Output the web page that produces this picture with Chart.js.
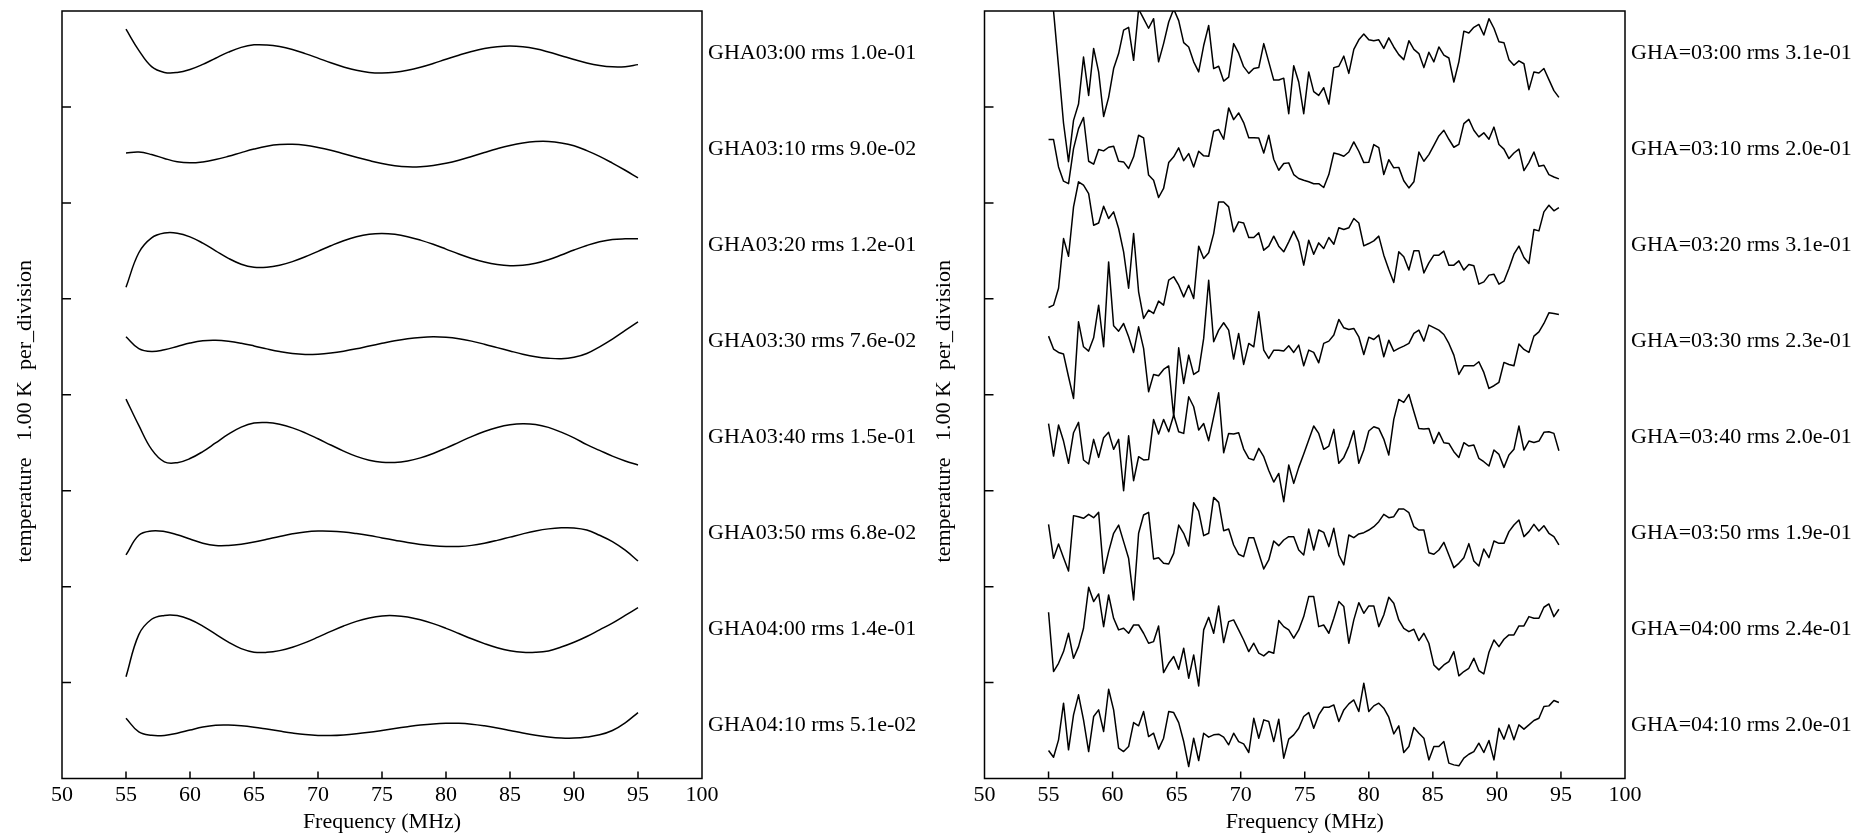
<!DOCTYPE html>
<html>
<head>
<meta charset="utf-8">
<script src="https://cdn.jsdelivr.net/npm/chart.js@4.4.1/dist/chart.umd.min.js"></script>
<style>
  body { margin: 0; background: #fff; }
  #wrap { display: flex; width: 1858px; height: 833px; }
  canvas { display: block; }
</style>
</head>
<body>
<div id="wrap">
  <canvas id="fitChart" width="920" height="833"></canvas>
  <canvas id="dataChart" width="938" height="833"></canvas>
</div>
<script>
// model fits, sampled every 1 MHz
var fitFreq = [55,56,57,58,59,60,61,62,63,64,65,66,67,68,69,70,71,72,73,74,75,76,77,78,79,80,81,82,83,84,85,86,87,88,89,90,91,92,93,94,95];

// data channels, 0.39 MHz apart
var chanFreq = [55.00,55.39,55.78,56.17,56.56,56.95,57.34,57.73,58.13,58.52,58.91,59.30,59.69,60.08,60.47,60.86,61.25,61.64,62.03,62.42,
  62.81,63.20,63.59,63.98,64.38,64.77,65.16,65.55,65.94,66.33,66.72,67.11,67.50,67.89,68.28,68.67,69.06,69.45,69.84,70.23,
  70.63,71.02,71.41,71.80,72.19,72.58,72.97,73.36,73.75,74.14,74.53,74.92,75.31,75.70,76.09,76.48,76.88,77.27,77.66,78.05,
  78.44,78.83,79.22,79.61,80.00,80.39,80.78,81.17,81.56,81.95,82.34,82.73,83.13,83.52,83.91,84.30,84.69,85.08,85.47,85.86,
  86.25,86.64,87.03,87.42,87.81,88.20,88.59,88.98,89.38,89.77,90.16,90.55,90.94,91.33,91.72,92.11,92.50,92.89,93.28,93.67,
  94.06,94.45,94.84];

// vertical offset of each trace, in K (1 K per division)
var rowOffset = [7.5, 6.5, 5.5, 4.5, 3.5, 2.5, 1.5, 0.5];

var fitLabels = ['GHA03:00 rms 1.0e-01', 'GHA03:10 rms 9.0e-02', 'GHA03:20 rms 1.2e-01', 'GHA03:30 rms 7.6e-02',
  'GHA03:40 rms 1.5e-01', 'GHA03:50 rms 6.8e-02', 'GHA04:00 rms 1.4e-01', 'GHA04:10 rms 5.1e-02'];
var dataLabels = ['GHA=03:00 rms 3.1e-01', 'GHA=03:10 rms 2.0e-01', 'GHA=03:20 rms 3.1e-01', 'GHA=03:30 rms 2.3e-01',
  'GHA=03:40 rms 2.0e-01', 'GHA=03:50 rms 1.9e-01', 'GHA=04:00 rms 2.4e-01', 'GHA=04:10 rms 2.0e-01'];

// fitted residuals (K)
var fit0300 = [0.31,0.09,-0.08,-0.14,-0.141,-0.110,-0.057,0.008,0.071,0.121,0.147,0.146,0.129,0.098,0.056,0.009,-0.040,-0.083,-0.118,-0.140,
  -0.146,-0.138,-0.117,-0.086,-0.047,-0.003,0.039,0.078,0.109,0.128,0.135,0.127,0.106,0.073,0.034,-0.006,-0.042,-0.068,-0.082,-0.080,-0.059];
var fit0310 = [0.02,0.03,0.004,-0.037,-0.071,-0.083,-0.073,-0.049,-0.015,0.024,0.061,0.091,0.108,0.110,0.100,0.078,0.049,0.013,-0.024,-0.059,
  -0.090,-0.112,-0.124,-0.123,-0.111,-0.087,-0.055,-0.016,0.025,0.064,0.098,0.124,0.139,0.140,0.125,0.095,0.045,-0.015,-0.085,-0.16,-0.24];
var fit0320 = [-0.38,-0.02,0.135,0.185,0.184,0.146,0.080,0.0,-0.078,-0.139,-0.171,-0.171,-0.150,-0.112,-0.062,-0.005,0.053,0.106,0.147,0.173,
  0.181,0.172,0.148,0.112,0.068,0.018,-0.033,-0.079,-0.117,-0.143,-0.155,-0.151,-0.129,-0.092,-0.044,0.008,0.056,0.095,0.119,0.125,0.125];
var fit0330 = [0.104,-0.02,-0.05,-0.031,0.003,0.039,0.063,0.068,0.058,0.037,0.009,-0.022,-0.050,-0.071,-0.080,-0.077,-0.065,-0.046,-0.021,0.008,
  0.036,0.063,0.084,0.098,0.104,0.099,0.084,0.059,0.027,-0.009,-0.044,-0.077,-0.103,-0.119,-0.125,-0.11,-0.07,0.0,0.08,0.17,0.26];
var fit0340 = [0.455,0.18,-0.07,-0.20,-0.208,-0.165,-0.092,-0.002,0.089,0.162,0.205,0.210,0.192,0.155,0.103,0.041,-0.024,-0.087,-0.142,-0.182,
  -0.204,-0.206,-0.190,-0.158,-0.112,-0.056,0.004,0.064,0.117,0.159,0.187,0.198,0.19,0.16,0.11,0.05,-0.02,-0.08,-0.14,-0.19,-0.233];
var fit0350 = [-0.17,0.035,0.08,0.074,0.041,-0.004,-0.047,-0.071,-0.071,-0.058,-0.036,-0.007,0.023,0.050,0.070,0.079,0.078,0.069,0.053,0.033,
  0.008,-0.016,-0.040,-0.060,-0.075,-0.082,-0.081,-0.070,-0.048,-0.018,0.016,0.050,0.080,0.102,0.113,0.112,0.09,0.035,-0.03,-0.12,-0.233];
var fit0400 = [-0.44,0.0,0.16,0.20,0.198,0.158,0.089,0.004,-0.079,-0.146,-0.183,-0.185,-0.167,-0.132,-0.084,-0.027,0.033,0.089,0.138,0.174,
  0.195,0.197,0.183,0.154,0.114,0.065,0.011,-0.044,-0.094,-0.137,-0.168,-0.185,-0.185,-0.17,-0.13,-0.08,-0.02,0.05,0.12,0.20,0.281];
var fit0410 = [0.128,-0.015,-0.05,-0.051,-0.028,0.005,0.037,0.056,0.058,0.050,0.035,0.015,-0.006,-0.026,-0.042,-0.051,-0.052,-0.046,-0.034,-0.018,
  0.001,0.021,0.040,0.057,0.069,0.075,0.075,0.066,0.049,0.027,0.001,-0.026,-0.049,-0.067,-0.078,-0.079,-0.068,-0.045,0.0,0.08,0.1875];

// measured residuals per channel (K)
var res0300 = [0.9,0.5,-0.08,-0.67,-1.07,-0.64,-0.47,0.02,-0.38,0.11,-0.135,-0.60,-0.40,-0.10,0.056,0.30,0.33,-0.014,0.52,0.42,
  0.32,0.42,-0.03,0.16,0.385,0.52,0.40,0.17,0.125,-0.03,-0.135,0.14,0.35,-0.10,-0.076,-0.23,-0.19,0.16,0.06,-0.08,
  -0.15,-0.10,-0.09,0.16,-0.03,-0.22,-0.22,-0.20,-0.57,-0.07,-0.24,-0.57,-0.135,-0.34,-0.38,-0.30,-0.47,-0.09,-0.076,0.03,
  -0.15,0.10,0.20,0.26,0.20,0.19,0.20,0.11,0.22,0.125,0.045,-0.007,0.19,0.10,0.056,-0.09,0.07,-0.03,0.125,0.04,
  0.01,-0.24,-0.03,0.29,0.27,0.33,0.36,0.25,0.42,0.32,0.18,0.17,-0.007,-0.066,-0.02,-0.05,-0.32,-0.135,-0.146,-0.10,
  -0.215,-0.33,-0.40];
var res0310 = [0.16,0.16,-0.125,-0.274,-0.30,0.066,0.274,0.39,-0.066,-0.097,0.056,0.042,0.08,0.09,-0.066,-0.073,-0.142,-0.02,0.205,0.177,
  -0.21,-0.264,-0.444,-0.35,-0.08,-0.02,0.073,-0.06,0.014,-0.125,0.038,-0.01,-0.014,0.247,0.264,0.163,0.49,0.368,0.4375,0.337,
  0.18,0.18,0.177,0.02,0.205,-0.045,-0.16,-0.09,-0.083,-0.205,-0.246,-0.264,-0.28,-0.30,-0.30,-0.34,-0.205,0.02,0.007,-0.014,
  0.03,0.135,0.038,-0.08,-0.076,0.108,0.076,-0.205,-0.05,-0.135,-0.13,-0.27,-0.344,-0.28,0.03,-0.066,0.003,0.10,0.198,0.257,
  0.163,0.08,0.11,0.326,0.37,0.257,0.1875,0.23,0.163,0.29,0.108,0.06,-0.038,0.02,0.06,-0.163,-0.08,0.03,-0.118,-0.108,
  -0.205,-0.23,-0.25];
var res0320 = [-0.59,-0.566,-0.39,0.128,-0.056,0.458,0.72,0.684,0.597,0.267,0.29,0.465,0.337,0.406,0.233,-0.01,-0.39,0.18,-0.427,-0.705,
  -0.618,-0.653,-0.524,-0.566,-0.306,-0.27,-0.358,-0.48,-0.358,-0.497,0.049,-0.08,-0.02,0.18,0.51,0.51,0.458,0.198,0.302,0.29,
  0.139,0.139,0.1875,0.007,0.049,0.153,0.049,-0.01,0.094,0.205,0.094,-0.149,0.111,-0.035,0.083,0.024,0.139,0.069,0.24,0.222,
  0.24,0.337,0.29,0.052,0.076,0.104,0.153,-0.045,-0.194,-0.33,-0.01,-0.0625,-0.20,0,0,-0.23,-0.125,-0.045,-0.045,-0.003,
  -0.149,-0.149,-0.104,-0.20,-0.142,-0.156,-0.347,-0.323,-0.253,-0.243,-0.347,-0.316,-0.184,-0.035,0.049,-0.069,-0.132,0.222,0.208,0.406,
  0.476,0.417,0.451];
var res0330 = [0.111,-0.024,-0.059,-0.076,-0.3125,-0.538,0.26,0,-0.045,0.094,0.434,0,0.885,0.219,0.163,0.243,0.104,-0.059,0.208,-0.017,
  -0.469,-0.288,-0.302,-0.236,-0.20,-0.729,-0.01,-0.382,-0.087,-0.288,-0.253,0.087,0.694,0.052,0.174,0.25,0.174,-0.128,0.139,-0.184,
  0.035,0,0.365,-0.035,-0.122,-0.035,-0.035,-0.045,0.01,-0.059,0.017,-0.198,-0.035,-0.059,-0.167,0.035,0.059,0.122,0.285,0.198,
  0.18,0.191,0.104,-0.08,0.10,0.076,0.122,-0.104,0.069,-0.045,-0.017,0.007,0.035,0.139,0.174,0.059,0.226,0.20,0.174,0.128,
  0.035,-0.087,-0.288,-0.198,-0.198,-0.198,-0.156,-0.267,-0.434,-0.406,-0.37,-0.163,-0.184,-0.198,0.028,-0.028,-0.059,0.111,0.156,0.243,
  0.354,0.347,0.337];
var res0340 = [0.20,-0.139,0.184,0.017,-0.215,0.104,0.212,-0.18,-0.222,0.035,-0.153,0.052,0.108,-0.069,0.035,-0.5,0.073,-0.396,-0.146,-0.18,
  -0.174,0.243,0.09,0.243,0.115,0.288,0.115,0.097,0.479,0.375,0.132,0.20,0.021,0.27,0.52,-0.104,0.097,0.09,0.104,-0.066,
  -0.163,-0.18,-0.059,-0.146,-0.29,-0.41,-0.32,-0.615,-0.233,-0.424,-0.257,-0.118,0.028,0.174,0.097,-0.069,-0.035,0.139,-0.215,-0.153,
  -0.035,0.125,-0.215,-0.076,0.122,0.167,0.149,0.038,-0.128,0.243,0.451,0.42,0.503,0.323,0.149,0.142,0.149,-0.007,0.108,0,
  -0.007,-0.094,-0.153,0,-0.035,-0.024,-0.163,-0.198,-0.243,-0.076,-0.122,-0.257,-0.128,-0.069,0.174,-0.076,0.017,0.003,0.017,0.108,
  0.115,0.097,-0.083];
var res0350 = [0.149,-0.205,-0.056,-0.198,-0.337,0.24,0.229,0.212,0.253,0.219,0.274,-0.361,-0.135,0.056,0.142,-0.031,-0.205,-0.639,0.056,0.247,
  0.274,-0.212,-0.198,-0.257,-0.264,-0.153,0.142,0.056,-0.076,0.375,0.288,0.031,0.056,0.43,0.378,0.083,0.10,-0.066,-0.163,-0.1875,
  0.01,0.01,-0.153,-0.316,-0.222,-0.024,-0.073,-0.014,0.021,0.021,-0.118,-0.17,0.10,-0.118,0.09,0.066,-0.083,0.108,-0.17,-0.274,
  0.038,0.01,0.049,0.0625,0.09,0.125,0.177,0.253,0.219,0.229,0.309,0.309,0.271,0.125,0.09,0.09,-0.146,-0.163,-0.118,-0.038,
  -0.17,-0.302,-0.257,-0.198,-0.052,-0.233,-0.285,-0.108,-0.198,-0.024,-0.049,-0.049,0.073,0.142,0.194,0.021,0.073,0.149,0.08,0.135,
  0.056,0.021,-0.066];
var res0400 = [0.233,-0.385,-0.299,-0.177,0.014,-0.247,-0.125,0.066,0.493,0.344,0.424,0.083,0.413,0.17,0.049,0.066,0.014,0.10,0.10,0.014,
  -0.09,-0.073,0.09,-0.396,-0.299,-0.229,-0.361,-0.142,-0.455,-0.212,-0.535,0.049,0.18,0.014,0.299,-0.083,0.135,0.153,0.049,-0.056,
  -0.177,-0.09,-0.194,-0.222,-0.177,-0.194,0.146,0.083,0.049,-0.038,0.049,0.1875,0.396,0.396,0.083,0.10,0.014,0.17,0.344,0.292,
  -0.09,0.153,0.333,0.222,0.299,0.299,0.083,0.205,0.389,0.326,0.153,0.066,0.031,0.056,-0.0625,0.014,-0.09,-0.316,-0.368,-0.316,
  -0.281,-0.177,-0.43,-0.385,-0.351,-0.247,-0.375,-0.41,-0.184,-0.056,-0.125,-0.049,-0.003,-0.003,0.09,0.09,0.1875,0.17,0.17,0.285,
  0.319,0.1875,0.264];
var res0410 = [-0.208,-0.278,-0.097,0.285,-0.201,0.163,0.372,0.111,-0.219,0.146,0.215,-0.01,0.43,0.215,-0.184,-0.219,-0.167,0.083,0.049,0.198,
  -0.0625,-0.028,-0.194,-0.08,0.198,0.1875,0.083,-0.115,-0.375,-0.08,-0.3125,-0.028,-0.069,-0.045,-0.038,-0.069,-0.149,-0.028,-0.115,-0.139,
  -0.229,0.128,-0.08,0.111,0.094,-0.115,0.118,-0.288,-0.09,-0.045,0.024,0.146,0.1875,0.024,0.163,0.243,0.243,0.267,0.094,0.215,
  0.278,0.319,0.198,0.493,0.198,0.257,0.285,0.233,0.139,-0.035,0.049,-0.229,-0.167,0.031,-0.028,-0.08,-0.306,-0.167,-0.167,-0.115,
  -0.34,-0.358,-0.368,-0.288,-0.247,-0.219,-0.132,-0.229,-0.104,-0.306,0.024,-0.09,0.059,-0.097,0.059,0.014,0.059,0.104,0.128,0.25,
  0.257,0.3125,0.292];

var fitRows = [fit0300, fit0310, fit0320, fit0330, fit0340, fit0350, fit0400, fit0410];
var dataRows = [res0300, res0310, res0320, res0330, res0340, res0350, res0400, res0410];

var serif = { family: 'Liberation Serif, Times New Roman, serif', size: 22 };
var yTitle = 'temperature   1.00 K  per_division      ';

// box around the plot plus short inward ticks on the bottom and left edges
var boxTicks = {
  id: 'boxTicks',
  afterDraw: function(chart) {
    var ctx = chart.ctx, a = chart.chartArea;
    var xs = chart.scales.x, ys = chart.scales.y;
    ctx.save();
    ctx.strokeStyle = '#000';
    ctx.lineWidth = 1.5;
    ctx.strokeRect(a.left, a.top, a.right - a.left, a.bottom - a.top);
    ctx.beginPath();
    xs.ticks.forEach(function(t) {
      if (t.value <= xs.min || t.value >= xs.max) return;
      var px = xs.getPixelForValue(t.value);
      ctx.moveTo(px, a.bottom);
      ctx.lineTo(px, a.bottom - 7);
    });
    ys.ticks.forEach(function(t) {
      if (t.value <= ys.min || t.value >= ys.max) return;
      var py = ys.getPixelForValue(t.value);
      ctx.moveTo(a.left, py);
      ctx.lineTo(a.left + 9, py);
    });
    ctx.stroke();
    ctx.restore();
  }
};

var noGrid = { display: false, drawTicks: false };

function stackPanel(id, freqs, rows, labels, smooth, leftW, rightW, titlePad) {
  var datasets = rows.map(function(res, i) {
    return {
      label: labels[i],
      data: freqs.map(function(f, j) { return { x: f, y: res[j] + rowOffset[i] }; }),
      borderColor: '#000',
      borderWidth: 1.5,
      borderJoinStyle: 'round',
      pointRadius: 0,
      fill: false,
      tension: smooth ? 0.4 : 0
    };
  });

  return new Chart(document.getElementById(id), {
    type: 'line',
    data: { datasets: datasets },
    options: {
      responsive: false,
      animation: false,
      events: [],
      layout: { padding: { top: 11, left: 0, right: 0, bottom: 0 } },
      plugins: { legend: { display: false }, tooltip: { enabled: false } },
      scales: {
        x: {
          type: 'linear', min: 50, max: 100,
          grid: noGrid, border: { display: false },
          ticks: { stepSize: 5, color: '#000', font: serif, padding: 4, maxRotation: 0 },
          title: { display: true, text: 'Frequency (MHz)', color: '#000', font: serif, padding: { top: 0, bottom: -2 } },
          afterFit: function(s) { s.height = 54.5; s.paddingLeft = 0; s.paddingRight = 0; }
        },
        y: {
          min: 0, max: 8,
          grid: noGrid, border: { display: false },
          ticks: { stepSize: 1, display: false },
          title: { display: true, text: yTitle, color: '#000', font: serif, padding: { top: titlePad, bottom: 0 } },
          afterFit: function(s) { s.width = leftW; s.paddingTop = 0; s.paddingBottom = 0; }
        },
        tags: {
          position: 'right', min: 0, max: 8,
          grid: noGrid, border: { display: false },
          afterBuildTicks: function(s) {
            s.ticks = rowOffset.map(function(v) { return { value: v + 0.06 }; });
          },
          ticks: {
            autoSkip: false, color: '#000', font: serif, padding: 6,
            callback: function(v, i) { return labels[i]; }
          },
          afterFit: function(s) { s.width = rightW; s.paddingTop = 0; s.paddingBottom = 0; }
        }
      }
    },
    plugins: [boxTicks]
  });
}

stackPanel('fitChart', fitFreq, fitRows, fitLabels, true, 62, 218, 12);
stackPanel('dataChart', chanFreq, dataRows, dataLabels, false, 64.5, 233, 11);
</script>
</body>
</html>
